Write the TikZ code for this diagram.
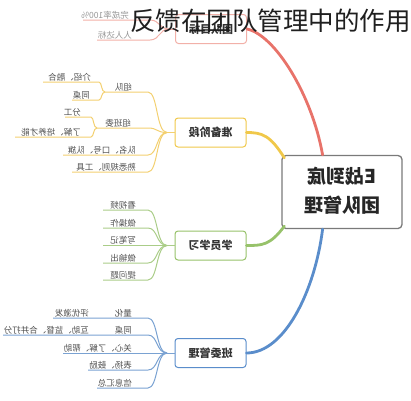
\documentclass[tikz,border=0pt]{standalone}
\usepackage{fontspec}
\usepackage{graphicx}
\newfontfamily\cjk{Noto Sans CJK SC}
\usetikzlibrary{calc}
\definecolor{cred}{HTML}{E8736A}
\definecolor{cyel}{HTML}{F0C84A}
\definecolor{cgrn}{HTML}{97C26A}
\definecolor{cblu}{HTML}{5A8DCB}
\definecolor{lred}{HTML}{F2B0A8}
\definecolor{lyel}{HTML}{F3D070}
\definecolor{lgrn}{HTML}{AACD88}
\definecolor{lblu}{HTML}{7AA2D2}
\definecolor{txtg}{HTML}{505050}
\definecolor{rootg}{HTML}{7A7A7A}
\newcommand{\mirtxt}[1]{\reflectbox{#1}}
\begin{document}
\begin{tikzpicture}[x=1pt,y=-1pt,
  rootbox/.style={draw=rootg,line width=1.3pt,rounded corners=4pt,fill=white,minimum width=120pt,minimum height=73pt,inner sep=0pt,font=\cjk\bfseries\fontsize{19}{29}\selectfont,text=black!85},
  brbox/.style={draw=#1,line width=1pt,rounded corners=3pt,fill=white,minimum width=71pt,minimum height=29pt,inner sep=0pt,font=\cjk\bfseries\fontsize{11}{13}\selectfont,text=black!80},
  mainline/.style={draw=#1,line width=2.8pt,line cap=round},
  subline/.style={draw=#1,line width=1pt},
  leaf/.style={anchor=south east,inner sep=1pt,font=\cjk\fontsize{8.5}{10}\selectfont,text=txtg}]
\useasboundingbox (0,0) rectangle (411,400);

% central and branch nodes
\node[rootbox] (root) at (342,192) {\mirtxt{\begin{tabular}{@{}c@{}}E战到底\\团队管理\end{tabular}}};
\node[brbox=lred] (tm) at (211,29) {\mirtxt{团队目标}};
\node[brbox=cyel] (zb) at (210.5,132.5) {\mirtxt{准备阶段}};
\node[brbox=cgrn] (xy) at (210.5,245.5) {\mirtxt{学员学习}};
\node[brbox=cblu] (bw) at (210.5,353) {\mirtxt{班委管理}};

% main connectors
\coordinate (rtop) at ($(root.north west)!0.34!(root.north east)$);
\coordinate (rbot) at ($(root.south west)!0.34!(root.south east)$);
\coordinate (rtl) at ($(root.north west)+(3,3)$);
\coordinate (rbl) at ($(root.south west)+(3,-3)$);
\draw[mainline=cred] (rtop) .. controls (312,95) and (275,35) .. (tm.east);
\draw[mainline=cyel] (rtl) .. controls (270,135) and (262,132.5) .. (zb.east);
\draw[mainline=cgrn] (rbl) .. controls (270,245.5) and (262,245.5) .. (xy.east);
\draw[mainline=cblu] (rbot) .. controls (315,290) and (285,353) .. (bw.east);

% fan points
\coordinate (ft) at (169,29);
\coordinate (fz) at (167,132.5);
\coordinate (fx) at (167,245.5);
\coordinate (fb) at (167,353);
\draw[subline=lred] (tm.west) -- (ft);
\draw[subline=lyel] (zb.west) -- (fz);
\draw[subline=lgrn] (xy.west) -- (fx);
\draw[subline=lblu] (bw.west) -- (fb);

% team goal leaves
\foreach \yy/\lx/\rx/\tx [count=\i] in {20/83/130/完成率100\%, 40/97/133/人人达标}{
  \coordinate (te\i) at (\lx,\yy);
  \coordinate (tj\i) at (150,\yy);
  \draw[subline=lred] (ft) .. controls +(-10,0) and +(10,0) .. (tj\i) -- (te\i);
  \node[leaf,text=txtg!60] (tt\i) at (\rx,\yy) {\mirtxt{\tx}};
}

% preparation leaves
\foreach \yy/\lx/\rx/\tx [count=\i] in {92/105/133/组队, 128/97/132/组班委, 155/63/137/队名、口号、队旗, 172/72/137/熟悉规则、工具}{
  \coordinate (ze\i) at (\lx,\yy);
  \coordinate (zj\i) at (148,\yy);
  \draw[subline=lyel] (fz) .. controls +(-11,0) and +(10,0) .. (zj\i) -- (ze\i);
  \node[leaf] (zt\i) at (\rx,\yy) {\mirtxt{\tx}};
}
\foreach \yy/\lx/\rx/\tx [count=\i] in {82/43/92/介绍、融合, 100/72/91/同桌}{
  \coordinate (zae\i) at (\lx,\yy);
  \coordinate (zaj\i) at (99,\yy);
  \draw[subline=lyel] (ze1) .. controls +(-4,0) and +(3,0) .. (zaj\i) -- (zae\i);
  \node[leaf] (zat\i) at (\rx,\yy) {\mirtxt{\tx}};
}
\foreach \yy/\lx/\rx/\tx [count=\i] in {117/65/82/分工, 137/15/82/了解、培养才能}{
  \coordinate (zbe\i) at (\lx,\yy);
  \coordinate (zbj\i) at (91,\yy);
  \draw[subline=lyel] (ze2) .. controls +(-4,0) and +(3,0) .. (zbj\i) -- (zbe\i);
  \node[leaf] (zbt\i) at (\rx,\yy) {\mirtxt{\tx}};
}

% study leaves
\foreach \yy/\tx [count=\i] in {210/看视频, 228/做操作, 245.5/写笔记, 263/做输出, 280/提问题}{
  \coordinate (xe\i) at (103,\yy);
  \coordinate (xj\i) at (148,\yy);
  \draw[subline=lgrn] (fx) .. controls +(-11,0) and +(10,0) .. (xj\i) -- (xe\i);
  \node[leaf] (xt\i) at (137,\yy) {\mirtxt{\tx}};
}

% class committee leaves
\foreach \yy/\lx/\tx [count=\i] in {318/53/量化, 335/3/同桌, 353/63/关心、了解、帮助, 370/88/表扬、鼓励, 388/97/信息汇总}{
  \coordinate (be\i) at (\lx,\yy);
  \coordinate (bj\i) at (148,\yy);
  \draw[subline=lblu] (fb) .. controls +(-11,0) and +(10,0) .. (bj\i) -- (be\i);
  \node[leaf] (bt\i) at (133,\yy) {\mirtxt{\tx}};
}
\node[leaf] (bc1) at (90,318) {\mirtxt{评优激发}};
\node[leaf] (bc2) at (90,335) {\mirtxt{互助、监督、合并打分}};

% title
\node[anchor=east,inner sep=0pt,font=\cjk\fontsize{25.5}{28}\selectfont,text=black!88] (title) at (411,21) {反馈在团队管理中的作用};
\end{tikzpicture}
\end{document}
